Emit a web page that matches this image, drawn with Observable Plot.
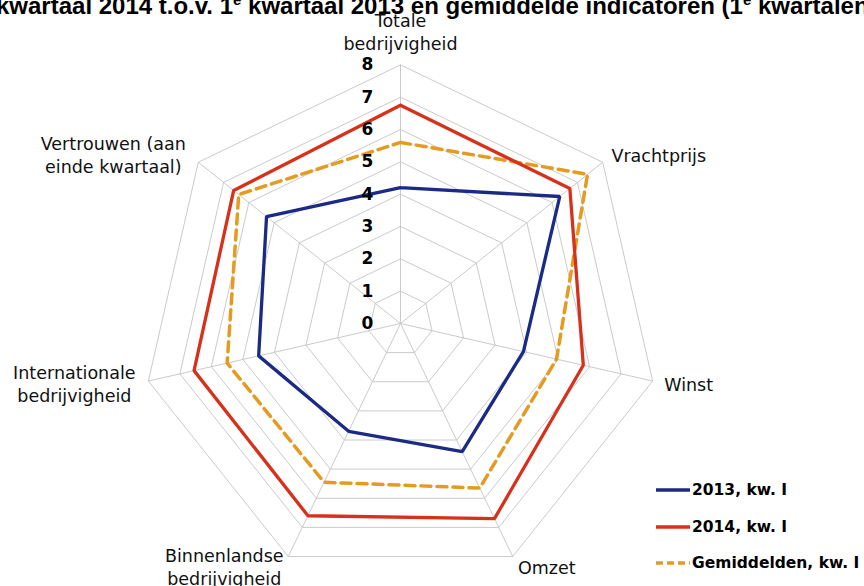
<!DOCTYPE html>
<html>
<head>
<meta charset="utf-8">
<script src="https://cdn.jsdelivr.net/npm/d3@7"></script>
<script src="https://cdn.jsdelivr.net/npm/@observablehq/plot@0.6"></script>
<style>
  html, body { margin: 0; padding: 0; background: #fff; }
  #wrap { position: relative; width: 864px; height: 586px; overflow: hidden; }
  #title { position: absolute; left: -4px; top: -6px; white-space: nowrap; line-height: 24px;
    font: bold 24px/24px "Liberation Sans", Arial, sans-serif; color: #000; }
  #title sup { font-size: 15px; line-height: 0; }
  #legend { position: absolute; left: 655px; top: 472px;
    font: bold 15.5px "DejaVu Sans", Verdana, sans-serif; color: #000; }
  .li { display: flex; align-items: center; height: 36.5px; }
  .li svg { margin-right: 1px; }
</style>
</head>
<body>
<div id="wrap">
  <div id="chart"></div>
  <div id="title">kwartaal 2014 t.o.v. 1<sup>e</sup> kwartaal 2013 en gemiddelde indicatoren (1<sup>e</sup> kwartalen 2004-2013)</div>
  <div id="legend"></div>
</div>
<script>
// ---- data ----
const categories = [
  "Totale\nbedrijvigheid",
  "Vrachtprijs",
  "Winst",
  "Omzet",
  "Binnenlandse\nbedrijvigheid",
  "Internationale\nbedrijvigheid",
  "Vertrouwen (aan\neinde kwartaal)"
];
const series = ["2013, kw. I", "2014, kw. I", "Gemiddelden, kw. I"];
const values2013 = [4.2, 6.3, 3.9, 4.4, 3.7, 4.5, 5.3];
const values2014 = [6.75, 6.7, 5.8, 6.7, 6.6, 6.55, 6.6];
const valuesGem  = [5.6, 7.4, 4.95, 5.65, 5.45, 5.5, 6.4];
const tickValues = [0, 1, 2, 3, 4, 5, 6, 7, 8];

// ---- layout ----
const W = 864, H = 586;
const U = 32.33;            // px per unit
const CX = 400, CY = 323;   // centre in px
const RMAX = 8;
const colors = ["#1b2a84", "#d6311b", "#e49b22"];
const n = categories.length;
const ang = i => i * 2 * Math.PI / n;
const px = (r, i) => r * Math.sin(ang(i));
const py = (r, i) => r * Math.cos(ang(i));

// label offsets (px) from outer vertex
const labelOffsets = [[0, -34], [56, -8], [36, 3], [34, 10], [-64, 10], [-74, 2], [-85, -8]];

const rings = [];
for (const k of tickValues.filter(t => t > 0)) {
  for (let i = 0; i <= n; i++) rings.push({k, x: px(k, i % n), y: py(k, i % n)});
}
const spokes = categories.map((c, i) => ({x2: px(RMAX, i), y2: py(RMAX, i)}));

function pathOf(vals) {
  const pts = vals.map((v, i) => ({x: px(v, i), y: py(v, i)}));
  pts.push(pts[0]);
  return pts;
}

const labels = categories.map((c, i) => ({
  text: c,
  x: px(RMAX, i) + labelOffsets[i][0] / U,
  y: py(RMAX, i) - labelOffsets[i][1] / U
}));

const chart = Plot.plot({
  width: W, height: H,
  margin: 0,
  x: {domain: [-CX / U, (W - CX) / U], range: [0, W], axis: null},
  y: {domain: [-(H - CY) / U, CY / U], range: [H, 0], axis: null},
  style: {background: "transparent"},
  marks: [
    Plot.line(rings, {x: "x", y: "y", z: "k", stroke: "#c4c4c4", strokeWidth: 0.9}),
    Plot.link(spokes, {x1: 0, y1: 0, x2: "x2", y2: "y2", stroke: "#c4c4c4", strokeWidth: 0.9}),
    Plot.line(pathOf(values2013), {x: "x", y: "y", stroke: colors[0], strokeWidth: 3.3, strokeLinejoin: "miter"}),
    Plot.line(pathOf(valuesGem), {x: "x", y: "y", stroke: colors[2], strokeWidth: 3.5, strokeDasharray: "10,6", strokeLinejoin: "miter"}),
    Plot.line(pathOf(values2014), {x: "x", y: "y", stroke: colors[1], strokeWidth: 3.3, strokeLinejoin: "miter"}),
    Plot.text(tickValues, {x: 0, y: d => d, text: d => String(d), dx: -33, fontWeight: "bold",
      fontSize: 17, fontFamily: "DejaVu Sans, Verdana, sans-serif", fill: "#000"}),
    Plot.text(labels, {x: "x", y: "y", text: "text", fontSize: 17.5, lineHeight: 1.3,
      fontFamily: "DejaVu Sans, Verdana, sans-serif", fill: "#111", textAnchor: "middle"})
  ]
});
document.getElementById("chart").appendChild(chart);

// legend
const leg = document.getElementById("legend");
series.forEach((s, i) => {
  const row = document.createElement("div");
  row.className = "li";
  const dash = i === 2 ? 'stroke-dasharray="7,4"' : "";
  row.innerHTML = `<svg width="36" height="8"><line x1="1" y1="4" x2="35" y2="4" stroke="${colors[i]}" stroke-width="3.5" ${dash}/></svg><span>${s}</span>`;
  leg.appendChild(row);
});
</script>
</body>
</html>
